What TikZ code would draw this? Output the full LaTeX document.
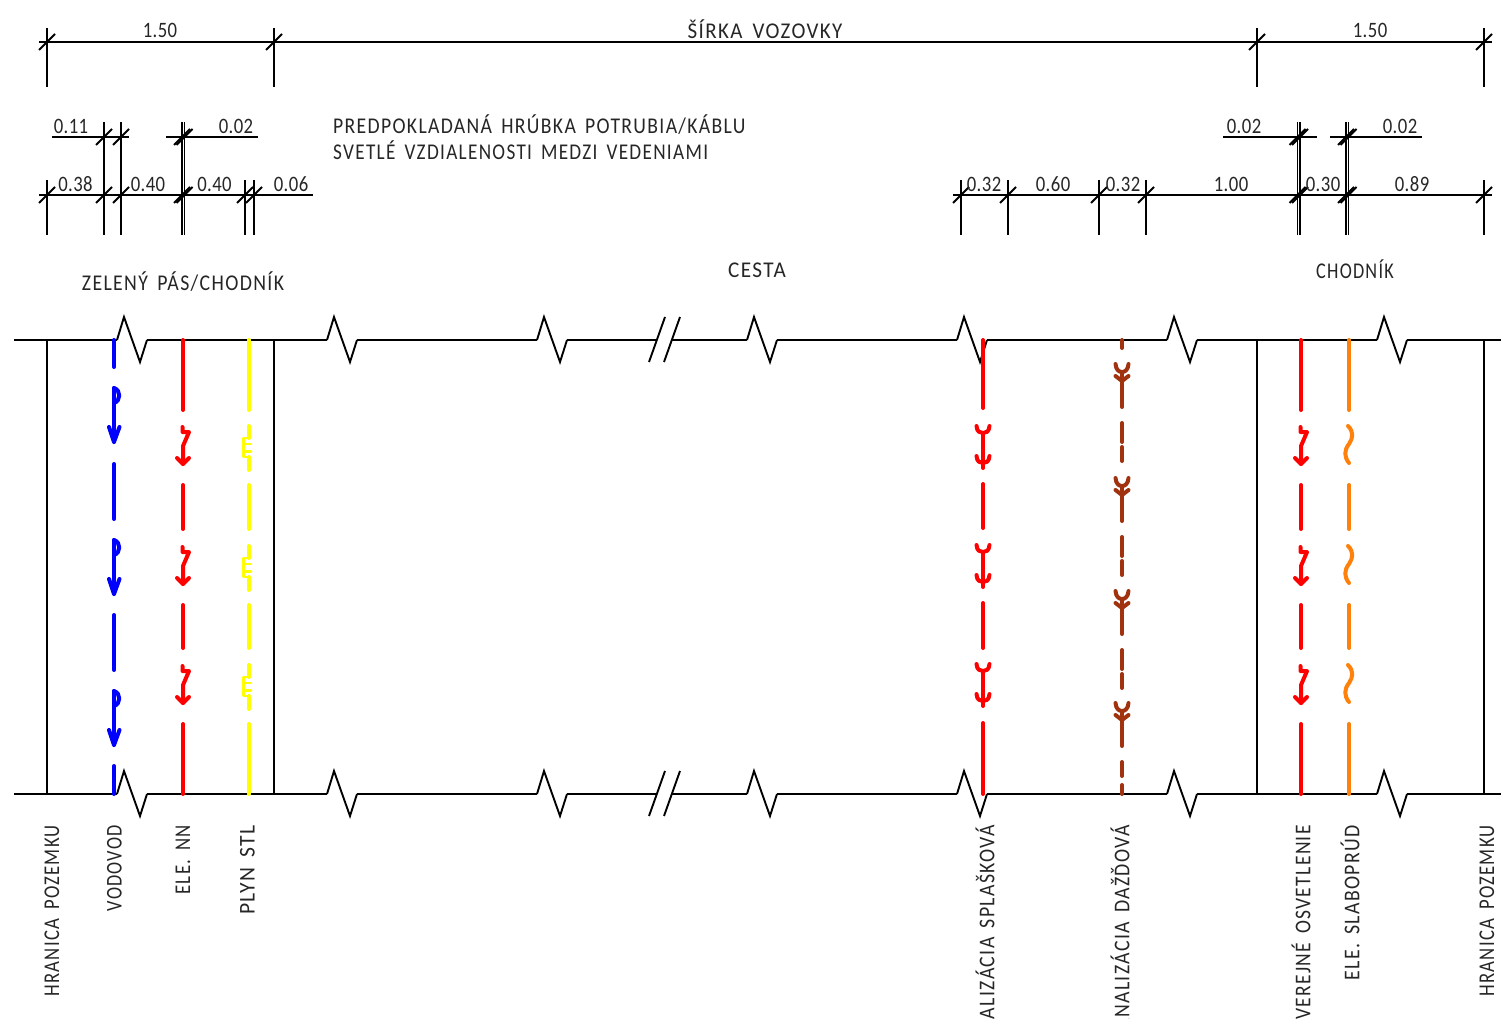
\documentclass[tikz,border=0pt]{standalone}
\usepackage{fontspec}
\setmainfont[LetterSpace=6,FakeStretch=0.88,WordSpace=1.6]{Carlito}
\newfontfamily\numfont[LetterSpace=2,FakeStretch=0.85]{Carlito}
\definecolor{brownline}{RGB}{160,50,15}
\definecolor{orangeline}{RGB}{255,128,10}
\definecolor{blueline}{RGB}{0,0,255}
\definecolor{redline}{RGB}{255,0,0}
\definecolor{yellowline}{RGB}{255,255,0}
\tikzset{
  base/.style={line width=1.9pt,black},
  pipe/.style={line width=4pt,line cap=round,line join=round},
  lbl/.style={font=\fontsize{22.5}{26}\selectfont,text=black!85,inner sep=0pt},
  numlbl/.style={font=\numfont\fontsize{22}{26}\selectfont,text=black!85,inner sep=0pt},
  vlbl/.style={lbl,rotate=90,anchor=east},
}
\newcommand{\breakmark}[2]{\draw[base,line join=miter] (#1,#2) -- ++(7,-23) -- ++(16,45) -- ++(7,-22);}
\newcommand{\ticksym}[2]{\draw[base] (#1-8,#2+8) -- (#1+8,#2-8);}
\newcommand{\squeeze}[2]{\scalebox{#1}[1]{#2}}
\begin{document}
\begin{tikzpicture}[x=1pt,y=-1pt]
\useasboundingbox (0,0) rectangle (1501,1019);
\clip (0,0) rectangle (1501,1019);
% --- top dimension
\foreach \x in {47,274,1257,1484}{\draw[base] (\x,28) -- (\x,87); \ticksym{\x}{42}}
\coordinate (topL) at (39,42); \coordinate (topR) at (1492,42);
\draw[base] (topL) -- (topR);
\node[numlbl] (t150a) at (160,30) {1.50};
\node[lbl] (tsirka) at (765,29.5) {\squeeze{1.06}{ŠÍRKA VOZOVKY}};
\node[numlbl] (t150b) at (1370,30) {1.50};
% --- row dims left
\foreach \x in {47,245,254}{\draw[base] (\x,180) -- (\x,235); \ticksym{\x}{195}}
\foreach \x in {104,121,182,184.5}{\draw[base] (\x,122) -- (\x,235); \ticksym{\x}{195}\ticksym{\x}{137}}
\coordinate (ra) at (39,195); \coordinate (rb) at (313,195);
\draw[base] (ra) -- (rb);
\coordinate (rc) at (52,137); \coordinate (rd) at (129,137);
\draw[base] (rc) -- (rd);
\coordinate (re) at (166,137); \coordinate (rf) at (258,137);
\draw[base] (re) -- (rf);
\node[numlbl] (d1) at (75.5,184) {0.38};
\node[numlbl] (d2) at (148,184) {0.40};
\node[numlbl] (d3) at (214.5,184) {0.40};
\node[numlbl] (d4) at (291,184) {0.06};
\node[numlbl] (d5) at (71,126) {0.11};
\node[numlbl] (d6) at (236,126) {0.02};
% --- row dims right
\foreach \x in {961,1008,1099,1146,1484}{\draw[base] (\x,180) -- (\x,235); \ticksym{\x}{195}}
\foreach \x in {1297.5,1300,1346,1348.5}{\draw[base] (\x,122) -- (\x,235); \ticksym{\x}{195}\ticksym{\x}{137}}
\coordinate (rg) at (953,195); \coordinate (rh) at (1492,195);
\draw[base] (rg) -- (rh);
\coordinate (ri) at (1223,137); \coordinate (rj) at (1317,137);
\draw[base] (ri) -- (rj);
\coordinate (rk) at (1330,137); \coordinate (rl) at (1422,137);
\draw[base] (rk) -- (rl);
\node[numlbl] (e1) at (984,184) {0.32};
\node[numlbl] (e2) at (1053,184) {0.60};
\node[numlbl] (e3) at (1123,184) {0.32};
\node[numlbl] (e4) at (1231,184) {1.00};
\node[numlbl] (e5) at (1323,184) {0.30};
\node[numlbl] (e6) at (1412,184) {0.89};
\node[numlbl] (e7) at (1244,126) {0.02};
\node[numlbl] (e8) at (1400,126) {0.02};
% --- headings
\node[lbl,anchor=west] (h1) at (333,125) {\squeeze{0.993}{PREDPOKLADANÁ HRÚBKA POTRUBIA/KÁBLU}};
\node[lbl,anchor=west] (h2) at (333,150) {\squeeze{0.97}{SVETLÉ VZDIALENOSTI MEDZI VEDENIAMI}};
\node[lbl] (h3) at (183,282) {ZELENÝ PÁS/CHODNÍK};
\node[lbl] (h4) at (757,270.5) {\squeeze{1.07}{CESTA}};
\node[lbl] (h5) at (1355,269.5) {\squeeze{0.92}{CHODNÍK}};
% --- road edges
\foreach \y in {340,794}{
  \foreach \a/\b in {14/117,147/327,357/537,567/657,672/747,777/957,987/1167,1197/1377,1407/1501}{\draw[base] (\a,\y) -- (\b,\y);}
  \foreach \x in {117,327,537,747,957,1167,1377}{\breakmark{\x}{\y}}
  \draw[base] (649,\y+22) -- (665,\y-23);
  \draw[base] (664,\y+22) -- (680,\y-23);
}
\foreach \x in {47,274,1257,1484}{\draw[base] (\x,340) -- (\x,794);}
% --- water
\foreach \a/\b in {340/367,464/519,615/670,766/794}{\draw[pipe,blueline] (114,\a) -- (114,\b);}
\foreach \y in {388,540,691}{
  \draw[pipe,blueline] (114,\y) -- (114,\y+54);
  \draw[pipe,blueline] (114,\y) .. controls (121,\y+2) and (121,\y+13) .. (114,\y+15);
  \draw[pipe,blueline] (109,\y+39) -- (114,\y+54) -- (119.5,\y+39);
}
% --- electric (red) NN and lighting
\foreach \x in {183,1301}{
  \foreach \a/\b in {340/410,485/529,605/648,724/794}{\draw[pipe,redline] (\x,\a) -- (\x,\b);}
  \foreach \y in {427,547,666}{
    \draw[pipe,redline] (\x-0.5,\y) -- (\x-0.5,\y+5) -- (\x+6,\y+5) -- (\x,\y+19) -- (\x,\y+37);
    \draw[pipe,redline] (\x-6,\y+31) -- (\x,\y+37) -- (\x+6,\y+31);
  }
}
% --- gas
\foreach \a/\b in {340/410,485/529,605/648,724/794}{\draw[pipe,yellowline] (249,\a) -- (249,\b);}
\foreach \y in {426,546,665}{
  \draw[pipe,yellowline] (249,\y) -- (249,\y+12);
  \draw[pipe,yellowline] (249,\y+31) -- (249,\y+44);
  \draw[pipe,yellowline,line width=2.6pt] (249,\y+12) -- (243.5,\y+12) -- (243.5,\y+31) -- (249,\y+31);
  \draw[pipe,yellowline,line width=2.6pt] (243.5,\y+18) -- (251,\y+18) (243.5,\y+25.5) -- (251,\y+25.5);
}
% --- sewer
\foreach \a/\b in {340/408,484/528,603/648,723/794}{\draw[pipe,redline] (983,\a) -- (983,\b);}
\foreach \y in {426,545,664}{
  \draw[pipe,redline] (983,\y+7) -- (983,\y+42);
  \draw[pipe,redline] (976.5,\y) .. controls (977,\y+6) and (980,\y+7) .. (983,\y+7) .. controls (986,\y+7) and (989,\y+6) .. (989.5,\y);
  \draw[pipe,redline] (976.5,\y+30) .. controls (977,\y+36) and (980,\y+37) .. (983,\y+37) .. controls (986,\y+37) and (989,\y+36) .. (989.5,\y+30);
}
% --- rain
\foreach \a/\b in {340/348,423/442,447/461,537/556,561/575,650/669,674/688,762/776,785/794}{\draw[pipe,brownline] (1122,\a) -- (1122,\b);}
\foreach \y in {364,478,591,703}{
  \draw[pipe,brownline] (1122,\y+8) -- (1122,\y+43);
  \draw[pipe,brownline] (1115.5,\y) .. controls (1116,\y+6) and (1119,\y+8) .. (1122,\y+8) .. controls (1125,\y+8) and (1128,\y+6) .. (1128.5,\y);
  \draw[pipe,brownline] (1115.5,\y+12) -- (1122,\y+17) -- (1128.5,\y+12);
}
% --- low voltage
\foreach \a/\b in {340/410,485/529,605/648,724/794}{\draw[pipe,orangeline] (1349,\a) -- (1349,\b);}
\foreach \y in {426,546,665}{
  \draw[pipe,orangeline] (1348,\y) .. controls (1354,\y+6) and (1353,\y+12) .. (1349,\y+18) .. controls (1344,\y+24) and (1344,\y+31) .. (1349,\y+37);
}
% --- vertical labels
\node[vlbl] (v1) at (52,825) {\squeeze{0.945}{HRANICA POZEMKU}};
\node[vlbl] (v2) at (114.5,825) {\squeeze{0.92}{VODOVOD}};
\node[vlbl] (v3) at (183,825) {\squeeze{0.95}{ELE. NN}};
\node[vlbl] (v4) at (247.5,825) {\squeeze{1.09}{PLYN STL}};
\node[vlbl] (v5) at (985,825) {KANALIZÁCIA SPLAŠKOVÁ};
\node[vlbl] (v6) at (1120,825) {KANALIZÁCIA DAŽĎOVÁ};
\node[vlbl] (v7) at (1301,825) {\squeeze{0.985}{VEREJNÉ OSVETLENIE}};
\node[vlbl] (v8) at (1350,825) {ELE. SLABOPRÚD};
\node[vlbl] (v9) at (1487,825) {\squeeze{0.945}{HRANICA POZEMKU}};
\end{tikzpicture}
\end{document}
